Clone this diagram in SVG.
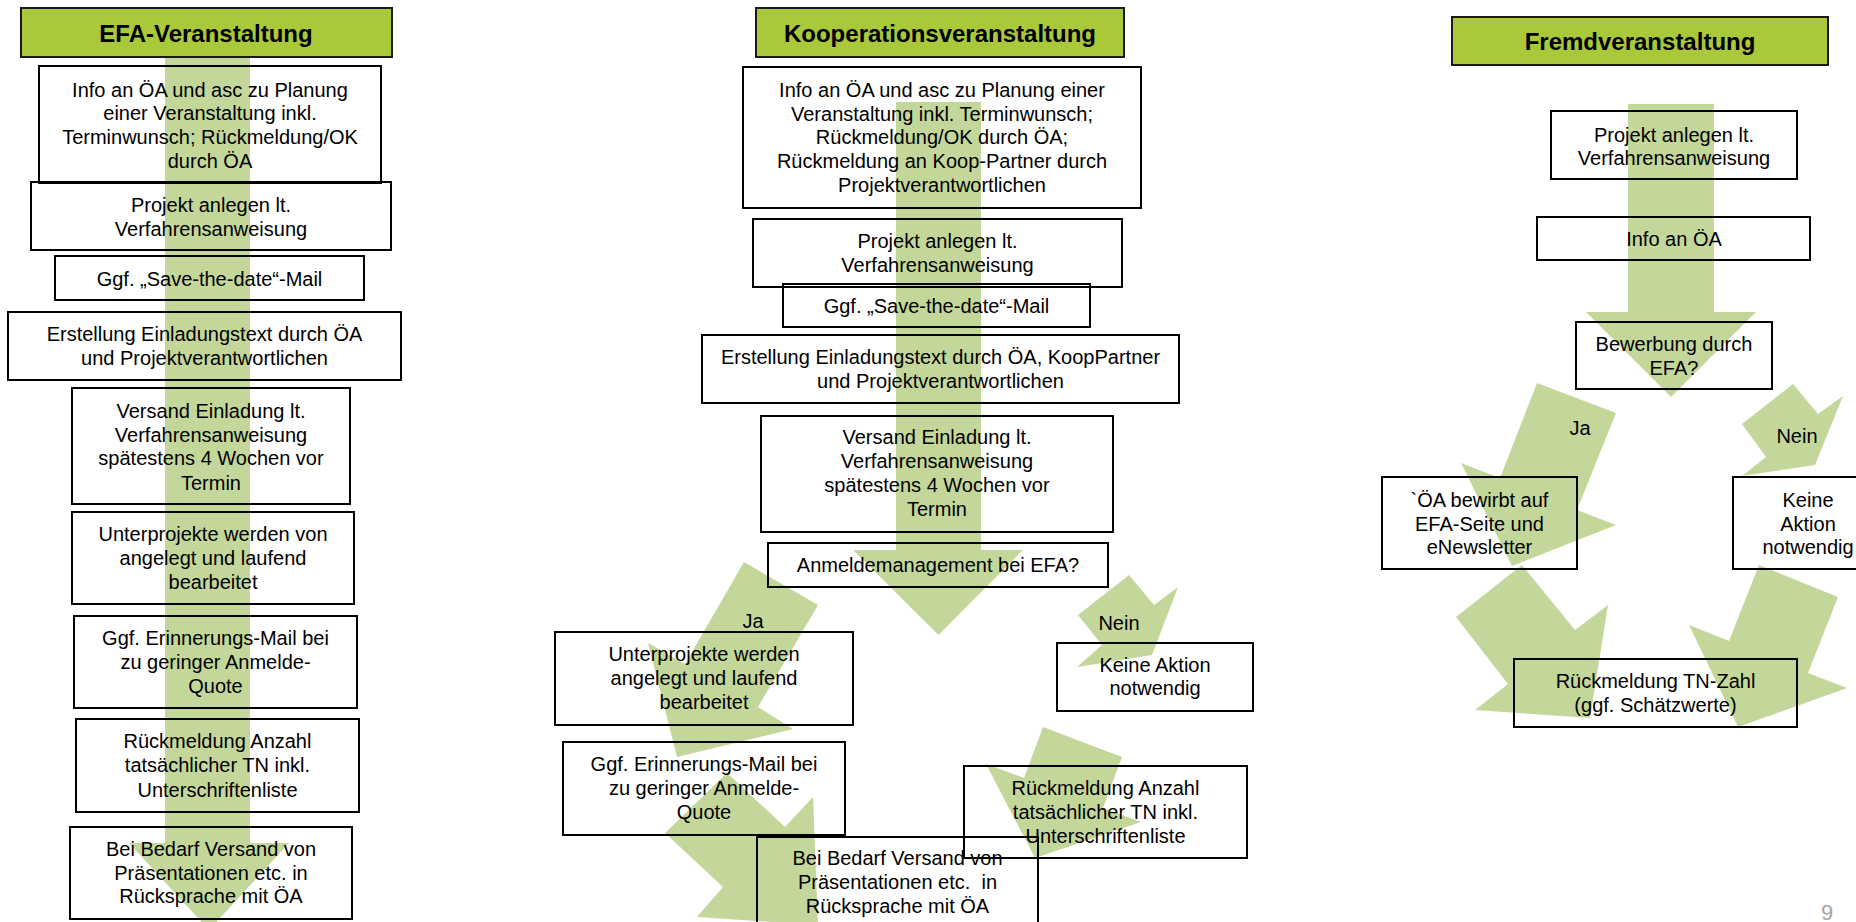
<svg xmlns="http://www.w3.org/2000/svg" width="1856" height="922" viewBox="0 0 1856 922">
<style>
.bg{fill:#ffffff}
.arr{fill:#C4D79B;stroke:none}
.box{fill:none;stroke:#000;stroke-width:2}
.hd{fill:#A9C93A;stroke:#1a1a1a;stroke-width:2}
text{font-family:"Liberation Sans",Arial,sans-serif;font-size:20px;fill:#000;text-anchor:middle}
.tt{font-size:24px;font-weight:bold}
.pg{font-size:22px;fill:#A6A6A6}
</style>
<rect class="bg" x="0" y="0" width="1856" height="922"/>
<g id="connectors">
  <polygon class="arr" points="165,57 250,57 250,843 289,843 209,930 129,843 165,843"/>
  <polygon class="arr" points="896,102 981,102 981,550 1023,550 938.5,635 853,550 896,550"/>
  <polygon class="arr" points="744,562 818,605 758,707 793,729 677,757 648,643 685,664"/>
  <polygon class="arr" points="1129,575 1154,605 1178,587 1152,655 1077,667 1102,645 1078,615"/>
  <polygon class="arr" points="665,833 727,773 785,827 813,797 818,925 697,917 723,887"/>
  <polygon class="arr" points="1043,727 1122,757 1103,808 1141,822 1035,858 986,764 1024,778"/>
  <polygon class="arr" points="1628,104 1714,104 1714,312 1756,312 1671,397 1586,312 1628,312"/>
  <polygon class="arr" points="1537,383 1616,413 1577,510 1616,525 1512,566 1461,463 1500,478"/>
  <polygon class="arr" points="1793,384 1818,414 1843,396 1815,465 1742,476 1766,457 1742,424"/>
  <polygon class="arr" points="1456,617 1522,565 1575,630 1608,605 1590,718 1475,710 1508,684"/>
  <polygon class="arr" points="1759,565 1838,597 1808,673 1847,688 1738,727 1689,625 1729,641"/>
</g>
<g id="efa-title"><rect class="hd" x="21" y="8" width="371" height="49"/><text class="tt" x="206" y="42">EFA-Veranstaltung</text></g>
<g id="e1"><rect class="box" x="39" y="66" width="342" height="117"/>
<text x="210" y="97">Info an ÖA und asc zu Planung</text><text x="210" y="120">einer Veranstaltung inkl.</text><text x="210" y="144">Terminwunsch; Rückmeldung/OK</text><text x="210" y="168">durch ÖA</text></g>
<g id="e2"><rect class="box" x="31" y="182" width="360" height="68"/>
<text x="211" y="212">Projekt anlegen lt.</text><text x="211" y="236">Verfahrensanweisung</text></g>
<g id="e3"><rect class="box" x="55" y="256" width="309" height="44"/>
<text x="209.5" y="286">Ggf. „Save-the-date“-Mail</text></g>
<g id="e4"><rect class="box" x="8" y="312" width="393" height="68"/>
<text x="204.5" y="341">Erstellung Einladungstext durch ÖA</text><text x="204.5" y="365">und Projektverantwortlichen</text></g>
<g id="e5"><rect class="box" x="72" y="388" width="278" height="116"/>
<text x="211" y="418">Versand Einladung lt.</text><text x="211" y="442">Verfahrensanweisung</text><text x="211" y="465">spätestens 4 Wochen vor</text><text x="211" y="490">Termin</text></g>
<g id="e6"><rect class="box" x="72" y="512" width="282" height="92"/>
<text x="213" y="541">Unterprojekte werden von</text><text x="213" y="565">angelegt und laufend</text><text x="213" y="589">bearbeitet</text></g>
<g id="e7"><rect class="box" x="74" y="616" width="283" height="92"/>
<text x="215.5" y="645">Ggf. Erinnerungs-Mail bei</text><text x="215.5" y="669">zu geringer Anmelde-</text><text x="215.5" y="693">Quote</text></g>
<g id="e8"><rect class="box" x="76" y="719" width="283" height="93"/>
<text x="217.5" y="748">Rückmeldung Anzahl</text><text x="217.5" y="772">tatsächlicher TN inkl.</text><text x="217.5" y="797">Unterschriftenliste</text></g>
<g id="e9"><rect class="box" x="70" y="827" width="282" height="92"/>
<text x="211" y="856">Bei Bedarf Versand von</text><text x="211" y="880">Präsentationen etc. in</text><text x="211" y="903">Rücksprache mit ÖA</text></g>

<g id="koop-title"><rect class="hd" x="756" y="8" width="368" height="49"/><text class="tt" x="940" y="42">Kooperationsveranstaltung</text></g>
<g id="k1"><rect class="box" x="743" y="67" width="398" height="141"/>
<text x="942" y="97">Info an ÖA und asc zu Planung einer</text><text x="942" y="121">Veranstaltung inkl. Terminwunsch;</text><text x="942" y="144">Rückmeldung/OK durch ÖA;</text><text x="942" y="168">Rückmeldung an Koop-Partner durch</text><text x="942" y="192">Projektverantwortlichen</text></g>
<g id="k2"><rect class="box" x="753" y="219" width="369" height="68"/>
<text x="937.5" y="248">Projekt anlegen lt.</text><text x="937.5" y="272">Verfahrensanweisung</text></g>
<g id="k3"><rect class="box" x="783" y="284" width="307" height="43"/>
<text x="936.5" y="313">Ggf. „Save-the-date“-Mail</text></g>
<g id="k4"><rect class="box" x="702" y="335" width="477" height="68"/>
<text x="940.5" y="364">Erstellung Einladungstext durch ÖA, KoopPartner</text><text x="940.5" y="388">und Projektverantwortlichen</text></g>
<g id="k5"><rect class="box" x="761" y="416" width="352" height="116"/>
<text x="937" y="444">Versand Einladung lt.</text><text x="937" y="468">Verfahrensanweisung</text><text x="937" y="492">spätestens 4 Wochen vor</text><text x="937" y="516">Termin</text></g>
<g id="k6"><rect class="box" x="768" y="543" width="340" height="44"/>
<text x="938" y="572">Anmeldemanagement bei EFA?</text></g>
<g id="k-ja"><text x="753" y="628">Ja</text></g>
<g id="k-nein"><text x="1119" y="630">Nein</text></g>
<g id="k7"><rect class="box" x="555" y="632" width="298" height="93"/>
<text x="704" y="661">Unterprojekte werden</text><text x="704" y="685">angelegt und laufend</text><text x="704" y="709">bearbeitet</text></g>
<g id="k8"><rect class="box" x="563" y="742" width="282" height="93"/>
<text x="704" y="771">Ggf. Erinnerungs-Mail bei</text><text x="704" y="795">zu geringer Anmelde-</text><text x="704" y="819">Quote</text></g>
<g id="k9"><rect class="box" x="757" y="837" width="281" height="100"/>
<text x="897.5" y="865">Bei Bedarf Versand von</text><text x="897.5" y="889" xml:space="preserve">Präsentationen etc.  in</text><text x="897.5" y="913">Rücksprache mit ÖA</text></g>
<g id="k10"><rect class="box" x="1057" y="643" width="196" height="68"/>
<text x="1155" y="672">Keine Aktion</text><text x="1155" y="695">notwendig</text></g>
<g id="k11"><rect class="box" x="964" y="766" width="283" height="92"/>
<text x="1105.5" y="795">Rückmeldung Anzahl</text><text x="1105.5" y="819">tatsächlicher TN inkl.</text><text x="1105.5" y="843">Unterschriftenliste</text></g>

<g id="fremd-title"><rect class="hd" x="1452" y="17" width="376" height="48"/><text class="tt" x="1640" y="50">Fremdveranstaltung</text></g>
<g id="f1"><rect class="box" x="1551" y="111" width="246" height="68"/>
<text x="1674" y="142">Projekt anlegen lt.</text><text x="1674" y="165">Verfahrensanweisung</text></g>
<g id="f2"><rect class="box" x="1537" y="217" width="273" height="43"/>
<text x="1674" y="246">Info an ÖA</text></g>
<g id="f3"><rect class="box" x="1576" y="322" width="196" height="67"/>
<text x="1674" y="351">Bewerbung durch</text><text x="1674" y="375">EFA?</text></g>
<g id="f-ja"><text x="1580" y="435">Ja</text></g>
<g id="f-nein"><text x="1797" y="443">Nein</text></g>
<g id="f4"><rect class="box" x="1382" y="477" width="195" height="92"/>
<text x="1479.5" y="507">`ÖA bewirbt auf</text><text x="1479.5" y="531">EFA-Seite und</text><text x="1479.5" y="554">eNewsletter</text></g>
<g id="f5"><rect class="box" x="1733" y="477" width="150" height="92"/>
<text x="1808" y="507">Keine</text><text x="1808" y="531">Aktion</text><text x="1808" y="554">notwendig</text></g>
<g id="f6"><rect class="box" x="1514" y="659" width="283" height="68"/>
<text x="1655.5" y="688">Rückmeldung TN-Zahl</text><text x="1655.5" y="712">(ggf. Schätzwerte)</text></g>
<text class="pg" x="1827" y="920">9</text>
</svg>
